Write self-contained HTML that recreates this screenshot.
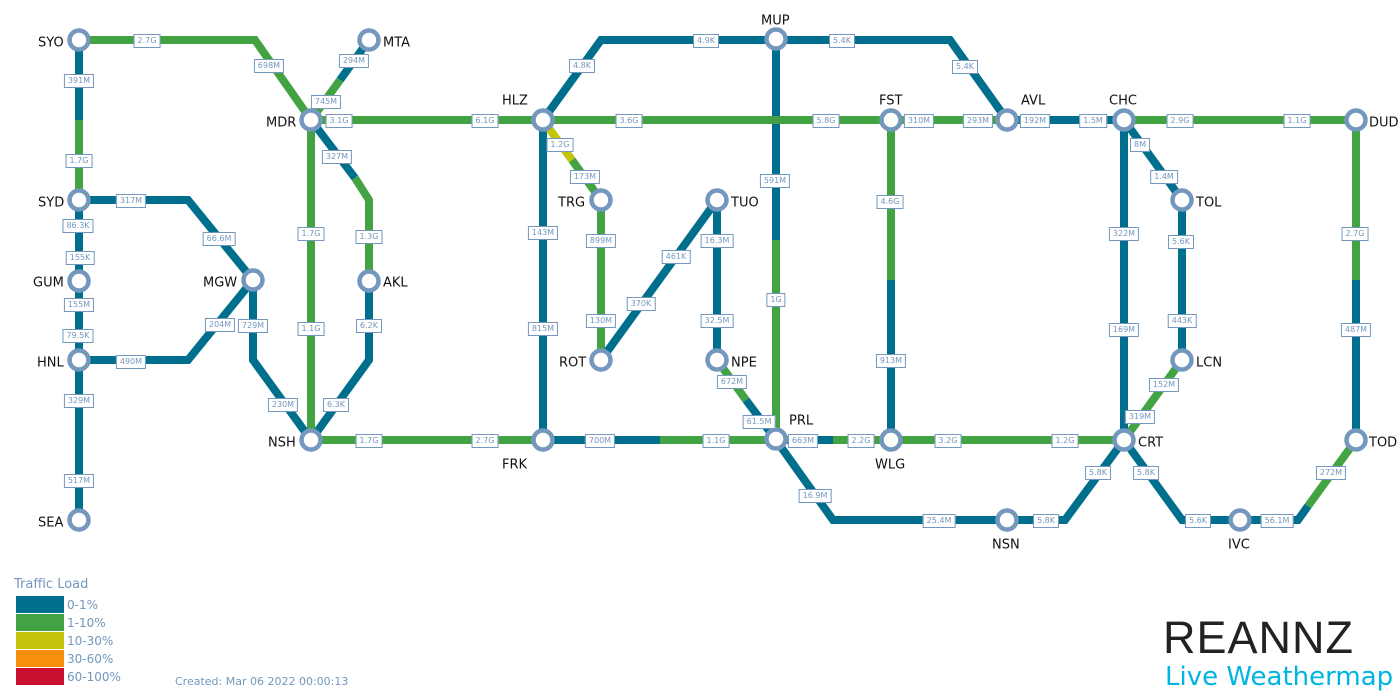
<!DOCTYPE html>
<html><head><meta charset="utf-8"><style>
body{margin:0;width:1400px;height:700px;background:#fff;position:relative;overflow:hidden;font-family:"DejaVu Sans","Liberation Sans",sans-serif}
svg{position:absolute;left:0;top:0}
.l{position:absolute;transform:translate(-50%,-50%);background:#fff;border:1px solid #7397bd;color:#7397bd;font-size:8px;line-height:12px;padding:0 3px;white-space:nowrap}
.n{position:absolute;font-size:13px;color:#111;transform:translateY(-50%);white-space:nowrap}
.lg{position:absolute;left:16px;width:48px;height:17px}
.lt{position:absolute;left:67px;font-size:12px;color:#7397bd}
</style></head><body>
<svg width="1400" height="700" fill="none" stroke-width="8" stroke-linejoin="miter">
<g stroke="#006f8e">
<polyline points="79,40 79,120"/>
<polyline points="79,200 188,200 253,280"/>
<polyline points="79,200 79,360 79,520"/>
<polyline points="79,360 188,360 253,280"/>
<polyline points="253,280 253,360 311,440"/>
<polyline points="340,80 369,40"/>
<polyline points="311,120 355,178"/>
<polyline points="369,281 369,360 311,440"/>
<polyline points="543,120 601,40 776,40 950,40 1007,120"/>
<polyline points="543,120 543,440 660,440"/>
<polyline points="601,360 717,200"/>
<polyline points="717,200 717,360"/>
<polyline points="746,400 776,440"/>
<polyline points="776,40 776,240"/>
<polyline points="891,280 891,440"/>
<polyline points="776,440 833,440"/>
<polyline points="776,440 833,520 1007,520 1065,520 1124,440"/>
<polyline points="1007,120 1124,120"/>
<polyline points="1124,120 1124,440"/>
<polyline points="1124,120 1182,200 1182,360"/>
<polyline points="1356,280 1356,440"/>
<polyline points="1124,440 1182,520 1298,520 1308,506"/>
</g>
<g stroke="#43a343">
<polyline points="79,40 255,40 311,120"/>
<polyline points="79,120 79,200"/>
<polyline points="311,120 340,80"/>
<polyline points="355,178 369,200 369,281"/>
<polyline points="311,120 311,440"/>
<polyline points="311,120 1007,120"/>
<polyline points="311,440 543,440"/>
<polyline points="572,160 601,200 601,360"/>
<polyline points="717,360 746,400"/>
<polyline points="660,440 776,440"/>
<polyline points="776,240 776,440"/>
<polyline points="891,120 891,280"/>
<polyline points="833,440 1124,440"/>
<polyline points="1124,120 1356,120 1356,280"/>
<polyline points="1182,360 1124,440"/>
<polyline points="1308,506 1356,440"/>
</g>
<polyline stroke="#c3c30a" points="543,120 572,160"/>
<g fill="#fff" stroke="#7397bd" stroke-width="4.5">
<circle cx="79" cy="40" r="9.5"/><circle cx="369" cy="40" r="9.5"/><circle cx="311" cy="120" r="9.5"/><circle cx="543" cy="120" r="9.5"/><circle cx="776" cy="39" r="9.5"/><circle cx="891" cy="120" r="9.5"/><circle cx="1007" cy="120" r="9.5"/><circle cx="1124" cy="120" r="9.5"/><circle cx="1356" cy="120" r="9.5"/><circle cx="79" cy="200" r="9.5"/><circle cx="601" cy="200" r="9.5"/><circle cx="717" cy="200" r="9.5"/><circle cx="1182" cy="200" r="9.5"/><circle cx="79" cy="281" r="9.5"/><circle cx="253" cy="280" r="9.5"/><circle cx="369" cy="281" r="9.5"/><circle cx="79" cy="360" r="9.5"/><circle cx="601" cy="360" r="9.5"/><circle cx="717" cy="360" r="9.5"/><circle cx="1182" cy="360" r="9.5"/><circle cx="311" cy="440" r="9.5"/><circle cx="543" cy="440" r="9.5"/><circle cx="776" cy="439" r="9.5"/><circle cx="891" cy="440" r="9.5"/><circle cx="1124" cy="440" r="9.5"/><circle cx="1356" cy="440" r="9.5"/><circle cx="79" cy="520" r="9.5"/><circle cx="1007" cy="520" r="9.5"/><circle cx="1240" cy="520" r="9.5"/>
</g>
</svg>
<div class="l" style="left:147px;top:41px">2.7G</div>
<div class="l" style="left:269px;top:66px">698M</div>
<div class="l" style="left:326px;top:102px">745M</div>
<div class="l" style="left:354px;top:61px">294M</div>
<div class="l" style="left:79px;top:81px">391M</div>
<div class="l" style="left:79px;top:161px">1.7G</div>
<div class="l" style="left:131px;top:201px">317M</div>
<div class="l" style="left:219px;top:239px">66.6M</div>
<div class="l" style="left:78px;top:226px">86.3K</div>
<div class="l" style="left:80px;top:258px">155K</div>
<div class="l" style="left:79px;top:305px">155M</div>
<div class="l" style="left:78px;top:336px">79.5K</div>
<div class="l" style="left:131px;top:362px">490M</div>
<div class="l" style="left:220px;top:325px">204M</div>
<div class="l" style="left:79px;top:401px">329M</div>
<div class="l" style="left:79px;top:481px">517M</div>
<div class="l" style="left:253px;top:326px">729M</div>
<div class="l" style="left:283px;top:405px">230M</div>
<div class="l" style="left:311px;top:234px">1.7G</div>
<div class="l" style="left:311px;top:329px">1.1G</div>
<div class="l" style="left:337px;top:157px">327M</div>
<div class="l" style="left:369px;top:237px">1.3G</div>
<div class="l" style="left:369px;top:326px">6.2K</div>
<div class="l" style="left:336px;top:405px">6.3K</div>
<div class="l" style="left:339px;top:121px">3.1G</div>
<div class="l" style="left:485px;top:121px">6.1G</div>
<div class="l" style="left:369px;top:441px">1.7G</div>
<div class="l" style="left:485px;top:441px">2.7G</div>
<div class="l" style="left:582px;top:66px">4.8K</div>
<div class="l" style="left:706px;top:41px">4.9K</div>
<div class="l" style="left:629px;top:121px">3.6G</div>
<div class="l" style="left:826px;top:121px">5.8G</div>
<div class="l" style="left:560px;top:145px">1.2G</div>
<div class="l" style="left:585px;top:177px">173M</div>
<div class="l" style="left:543px;top:233px">143M</div>
<div class="l" style="left:543px;top:329px">815M</div>
<div class="l" style="left:601px;top:241px">899M</div>
<div class="l" style="left:601px;top:321px">130M</div>
<div class="l" style="left:641px;top:304px">370K</div>
<div class="l" style="left:676px;top:257px">461K</div>
<div class="l" style="left:717px;top:241px">16.3M</div>
<div class="l" style="left:717px;top:321px">32.5M</div>
<div class="l" style="left:732px;top:382px">672M</div>
<div class="l" style="left:759px;top:422px">61.5M</div>
<div class="l" style="left:600px;top:441px">700M</div>
<div class="l" style="left:716px;top:441px">1.1G</div>
<div class="l" style="left:775px;top:181px">591M</div>
<div class="l" style="left:776px;top:300px">1G</div>
<div class="l" style="left:842px;top:41px">5.4K</div>
<div class="l" style="left:965px;top:67px">5.4K</div>
<div class="l" style="left:919px;top:121px">310M</div>
<div class="l" style="left:978px;top:121px">293M</div>
<div class="l" style="left:890px;top:202px">4.6G</div>
<div class="l" style="left:891px;top:361px">913M</div>
<div class="l" style="left:803px;top:441px">663M</div>
<div class="l" style="left:861px;top:441px">2.2G</div>
<div class="l" style="left:815px;top:496px">16.9M</div>
<div class="l" style="left:939px;top:521px">25.4M</div>
<div class="l" style="left:1035px;top:121px">192M</div>
<div class="l" style="left:1093px;top:121px">1.5M</div>
<div class="l" style="left:1180px;top:121px">2.9G</div>
<div class="l" style="left:1297px;top:121px">1.1G</div>
<div class="l" style="left:1140px;top:145px">8M</div>
<div class="l" style="left:1164px;top:177px">1.4M</div>
<div class="l" style="left:1124px;top:234px">322M</div>
<div class="l" style="left:1124px;top:330px">169M</div>
<div class="l" style="left:1181px;top:242px">5.6K</div>
<div class="l" style="left:1182px;top:321px">443K</div>
<div class="l" style="left:1164px;top:385px">152M</div>
<div class="l" style="left:1140px;top:417px">319M</div>
<div class="l" style="left:948px;top:441px">3.2G</div>
<div class="l" style="left:1065px;top:441px">1.2G</div>
<div class="l" style="left:1355px;top:234px">2.7G</div>
<div class="l" style="left:1356px;top:330px">487M</div>
<div class="l" style="left:1046px;top:521px">5.8K</div>
<div class="l" style="left:1098px;top:473px">5.8K</div>
<div class="l" style="left:1146px;top:473px">5.8K</div>
<div class="l" style="left:1198px;top:521px">5.6K</div>
<div class="l" style="left:1277px;top:521px">56.1M</div>
<div class="l" style="left:1331px;top:473px">272M</div>

<div class="n" style="left:38px;top:43px">SYO</div>
<div class="n" style="left:383px;top:43px">MTA</div>
<div class="n" style="left:266px;top:123px">MDR</div>
<div class="n" style="left:502px;top:101px">HLZ</div>
<div class="n" style="left:761px;top:21px">MUP</div>
<div class="n" style="left:879px;top:101px">FST</div>
<div class="n" style="left:1021px;top:101px">AVL</div>
<div class="n" style="left:1109px;top:101px">CHC</div>
<div class="n" style="left:1369px;top:123px">DUD</div>
<div class="n" style="left:38px;top:203px">SYD</div>
<div class="n" style="left:558px;top:203px">TRG</div>
<div class="n" style="left:731px;top:203px">TUO</div>
<div class="n" style="left:1196px;top:203px">TOL</div>
<div class="n" style="left:33px;top:283px">GUM</div>
<div class="n" style="left:203px;top:283px">MGW</div>
<div class="n" style="left:383px;top:283px">AKL</div>
<div class="n" style="left:37px;top:363px">HNL</div>
<div class="n" style="left:559px;top:363px">ROT</div>
<div class="n" style="left:731px;top:363px">NPE</div>
<div class="n" style="left:1196px;top:363px">LCN</div>
<div class="n" style="left:268px;top:443px">NSH</div>
<div class="n" style="left:502px;top:465px">FRK</div>
<div class="n" style="left:789px;top:421px">PRL</div>
<div class="n" style="left:875px;top:465px">WLG</div>
<div class="n" style="left:1138px;top:443px">CRT</div>
<div class="n" style="left:1369px;top:443px">TOD</div>
<div class="n" style="left:38px;top:523px">SEA</div>
<div class="n" style="left:992px;top:545px">NSN</div>
<div class="n" style="left:1228px;top:545px">IVC</div>

<div style="position:absolute;left:14px;top:577px;font-size:13px;color:#7397bd">Traffic Load</div>
<div class="lg" style="top:596px;background:#006f8e"></div>
<div class="lg" style="top:614px;background:#43a343"></div>
<div class="lg" style="top:632px;background:#c3c30a"></div>
<div class="lg" style="top:650px;background:#f78f0c"></div>
<div class="lg" style="top:668px;background:#c8102e"></div>
<div class="lt" style="top:598px">0-1%</div>
<div class="lt" style="top:616px">1-10%</div>
<div class="lt" style="top:634px">10-30%</div>
<div class="lt" style="top:652px">30-60%</div>
<div class="lt" style="top:670px">60-100%</div>
<div style="position:absolute;left:175px;top:675px;font-size:11px;color:#7397bd">Created: Mar 06 2022 00:00:13</div>
<div style="position:absolute;left:1163px;top:614px;font-family:'Liberation Sans',sans-serif;font-size:45px;color:#222;letter-spacing:1px;line-height:48px">REANNZ</div>
<div style="position:absolute;left:1165px;top:660px;font-size:26px;color:#00b5e2;line-height:34px">Live Weathermap</div>
</body></html>
